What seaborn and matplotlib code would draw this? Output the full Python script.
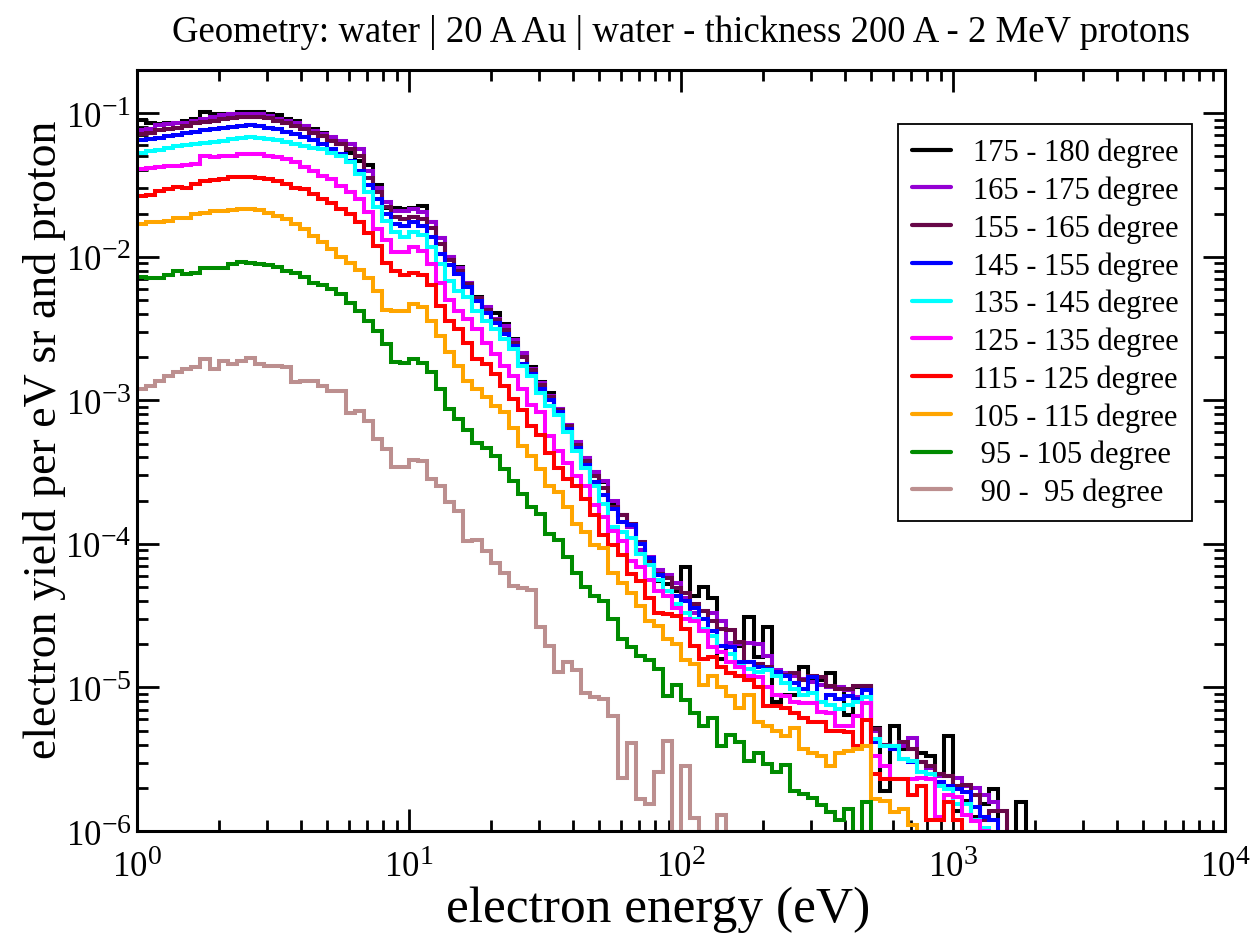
import numpy as np
import pandas as pd
import matplotlib
matplotlib.use("Agg")
import matplotlib.pyplot as plt
import seaborn as sns
from matplotlib.lines import Line2D
from matplotlib.ticker import LogLocator, NullFormatter

try:
    import matplotlib._mathtext as _mt
    _mt.SHRINK_FACTOR = 0.8
except Exception:
    pass

sns.set_theme(style="ticks")
plt.rcParams['font.family'] = ['Liberation Serif', 'DejaVu Serif']
plt.rcParams['mathtext.fontset'] = 'custom'
plt.rcParams['mathtext.rm'] = 'Liberation Serif'
plt.rcParams['mathtext.it'] = 'Liberation Serif:italic'
plt.rcParams['mathtext.bf'] = 'Liberation Serif:bold'
for k in ['text.color', 'axes.labelcolor', 'xtick.color', 'ytick.color', 'axes.edgecolor']:
    plt.rcParams[k] = 'black'

# ---------------- data ----------------
TITLE = "Geometry: water | 20 A Au | water - thickness 200 A - 2 MeV protons"
XLABEL = "electron energy (eV)"
YLABEL = "electron yield per eV sr and proton"
XTICKS = [1, 10, 100, 1000, 10000]
XTICK_LABELS = ["$10^{0}$", "$10^{1}$", "$10^{2}$", "$10^{3}$", "$10^{4}$"]
YTICKS = [1e-6, 1e-5, 1e-4, 1e-3, 1e-2, 1e-1]
YTICK_LABELS = ["$10^{-6}$", "$10^{-5}$", "$10^{-4}$", "$10^{-3}$", "$10^{-2}$", "$10^{-1}$"]

BINS_PER_DECADE = 30   # histogram bins: 30 per decade starting at 1 eV
N_BINS = 99

LABELS = ["175 - 180 degree", "165 - 175 degree", "155 - 165 degree", "145 - 155 degree",
          "135 - 145 degree", "125 - 135 degree", "115 - 125 degree", "105 - 115 degree",
          " 95 - 105 degree", " 90 -  95 degree"]
COLORS = ["#000000", "#9400d3", "#670748", "#0000ff", "#00ffff",
          "#ff00ff", "#ff0000", "#ffa500", "#008b00", "#bc8f8f"]

# log10 of the yield in each bin (None = empty bin)
LOG_175_180 = [-1.046, -1.065, -1.077, -1.07, -1.065, -1.053, -1.042, -0.995, -1.007, -1.007,
               -1.007, -0.995, -0.991, -0.991, -1.007, -1.014, -1.037, -1.053, -1.088, -1.111,
               -1.135, -1.181, -1.216, -1.274, -1.33, -1.36, -1.50, -1.66, -1.66, -1.67,
               -1.66, -1.645, -1.76, -1.87, -2.00, -2.07, -2.18, -2.28, -2.36, -2.39,
               -2.47, -2.57, -2.68, -2.77, -2.87, -2.95, -3.06, -3.17, -3.30, -3.40,
               -3.50, -3.57, -3.72, -3.80, -3.87, -4.05, -4.12, -4.26, -4.28, -4.33,
               -4.16, -4.36, -4.30, -4.38, -4.80, -4.71, -4.71, -4.51, -4.79, -4.58,
               -5.10, -5.05, -5.05, -4.86, -4.95, -4.95, -4.90, -5.00, -5.19, -5.00,
               -4.99, -5.28, -5.72, -5.27, -5.43, -5.43, -5.46, -5.48, -5.60, -5.34,
               -5.86, -5.79, -5.90, -5.81, -5.71, None, None, -5.80, None]
LOG_165_175 = [-1.12, -1.107, -1.084, -1.077, -1.07, -1.065, -1.053, -1.037, -1.023, -1.014,
               -1.007, -1.007, -1.007, -1.007, -1.019, -1.037, -1.053, -1.07, -1.088, -1.123,
               -1.146, -1.169, -1.193, -1.216, -1.25, -1.40, -1.52, -1.62, -1.68, -1.68,
               -1.67, -1.69, -1.76, -1.87, -2.00, -2.08, -2.18, -2.30, -2.35, -2.43,
               -2.48, -2.58, -2.67, -2.78, -2.88, -2.97, -3.06, -3.17, -3.29, -3.40,
               -3.50, -3.56, -3.70, -3.80, -3.88, -4.04, -4.09, -4.18, -4.22, -4.27,
               -4.38, -4.48, -4.47, -4.48, -4.54, -4.69, -4.70, -4.69, -4.70, -4.78,
               -4.88, -4.90, -4.92, -4.94, -4.96, -4.98, -5.00, -5.00, -5.02, -5.07,
               -5.00, -5.30, -5.40, -5.41, -5.41, -5.35, -5.52, -5.56, -5.62, -5.62,
               -5.63, -5.69, -5.70, -5.75, -5.80, -5.86, None, None, None]
LOG_155_165 = [-1.146, -1.135, -1.116, -1.107, -1.10, -1.088, -1.07, -1.06, -1.053, -1.042,
               -1.03, -1.023, -1.023, -1.023, -1.03, -1.053, -1.065, -1.088, -1.111, -1.135,
               -1.157, -1.193, -1.216, -1.25, -1.30, -1.45, -1.55, -1.65, -1.72, -1.74,
               -1.72, -1.74, -1.80, -1.91, -2.02, -2.10, -2.19, -2.29, -2.37, -2.44,
               -2.51, -2.60, -2.70, -2.79, -2.89, -2.98, -3.07, -3.18, -3.31, -3.42,
               -3.53, -3.61, -3.74, -3.80, -3.86, -3.99, -4.12, -4.21, -4.24, -4.31,
               -4.34, -4.42, -4.47, -4.54, -4.59, -4.60, -4.68, -4.82, -4.84, -4.86,
               -4.90, -4.91, -4.90, -4.95, -4.92, -4.93, -4.99, -5.01, -5.01, -4.99,
               -4.99, -5.29, -5.40, -5.43, -5.38, -5.43, -5.52, -5.55, -5.60, -5.62,
               -5.69, -5.68, -5.75, -5.92, -5.86, -5.86, None, None, None]
LOG_145_155 = [-1.19, -1.18, -1.17, -1.16, -1.15, -1.14, -1.13, -1.12, -1.11, -1.10,
               -1.095, -1.09, -1.085, -1.088, -1.10, -1.11, -1.13, -1.145, -1.165, -1.19,
               -1.215, -1.25, -1.285, -1.33, -1.40, -1.50, -1.60, -1.70, -1.77, -1.785,
               -1.757, -1.785, -1.865, -1.98, -2.06, -2.12, -2.21, -2.31, -2.39, -2.46,
               -2.54, -2.62, -2.75, -2.82, -2.92, -3.00, -3.08, -3.20, -3.33, -3.45,
               -3.57, -3.66, -3.76, -3.85, -3.87, -4.00, -4.10, -4.22, -4.33, -4.36,
               -4.40, -4.45, -4.52, -4.61, -4.71, -4.72, -4.82, -4.82, -4.86, -4.87,
               -4.89, -4.92, -4.97, -5.01, -4.93, -5.10, -5.05, -5.08, -5.06, -5.08,
               -5.02, -5.38, -5.41, -5.43, -5.50, -5.52, -5.59, -5.60, -5.66, -5.69,
               -5.71, -5.73, -5.83, -5.90, -5.92, None, None, None, None]
LOG_135_145 = [-1.274, -1.265, -1.255, -1.24, -1.23, -1.222, -1.215, -1.204, -1.20, -1.195,
               -1.181, -1.175, -1.169, -1.174, -1.18, -1.19, -1.20, -1.215, -1.228, -1.245,
               -1.251, -1.274, -1.297, -1.34, -1.42, -1.55, -1.65, -1.75, -1.83, -1.865,
               -1.83, -1.85, -1.93, -2.05, -2.17, -2.24, -2.28, -2.38, -2.45, -2.50,
               -2.57, -2.64, -2.76, -2.83, -2.95, -3.04, -3.10, -3.22, -3.35, -3.47,
               -3.60, -3.72, -3.88, -3.92, -3.96, -4.07, -4.15, -4.25, -4.33, -4.42,
               -4.48, -4.52, -4.59, -4.64, -4.75, -4.77, -4.85, -4.87, -4.89, -4.88,
               -4.92, -4.97, -5.01, -5.05, -5.04, -5.10, -5.12, -5.15, -5.12, -5.10,
               -5.07, -5.36, -5.41, -5.41, -5.50, -5.51, -5.59, -5.60, -5.69, -5.71,
               -5.81, -5.81, -5.92, -5.98, None, None, None, None, None]
LOG_125_135 = [-1.39, -1.385, -1.378, -1.37, -1.366, -1.36, -1.355, -1.297, -1.308, -1.30,
               -1.295, -1.285, -1.285, -1.287, -1.297, -1.308, -1.32, -1.343, -1.378, -1.40,
               -1.436, -1.46, -1.506, -1.55, -1.60, -1.69, -1.81, -1.88, -1.97, -1.97,
               -1.93, -1.96, -2.05, -2.18, -2.30, -2.38, -2.43, -2.50, -2.60, -2.68,
               -2.76, -2.83, -2.92, -3.03, -3.08, -3.25, -3.35, -3.44, -3.53, -3.60,
               -3.73, -3.81, -3.91, -3.98, -4.12, -4.16, -4.25, -4.33, -4.36, -4.45,
               -4.52, -4.54, -4.61, -4.72, -4.75, -4.82, -4.86, -4.92, -4.93, -5.00,
               -5.05, -5.06, -5.10, -5.11, -5.11, -5.17, -5.18, -5.27, -5.27, -5.20,
               -5.11, -5.48, -5.55, -5.64, -5.64, -5.64, -5.63, -5.64, -5.90, -5.75,
               -5.76, -5.89, -5.93, -6.00, None, None, None, None, None]
LOG_115_125 = [-1.576, -1.571, -1.541, -1.529, -1.511, -1.518, -1.49, -1.471, -1.464, -1.455,
               -1.441, -1.441, -1.441, -1.448, -1.455, -1.471, -1.494, -1.518, -1.529, -1.564,
               -1.599, -1.622, -1.669, -1.703, -1.761, -1.831, -1.924, -2.04, -2.098, -2.13,
               -2.11, -2.13, -2.20, -2.34, -2.45, -2.50, -2.60, -2.71, -2.75, -2.82,
               -2.90, -2.99, -3.07, -3.18, -3.24, -3.37, -3.47, -3.55, -3.60, -3.69,
               -3.80, -3.94, -4.01, -4.08, -4.21, -4.26, -4.38, -4.48, -4.49, -4.50,
               -4.59, -4.71, -4.80, -4.79, -4.86, -4.90, -4.92, -4.95, -5.00, -5.13,
               -5.13, -5.14, -5.18, -5.21, -5.24, -5.24, -5.30, -5.30, -5.31, -5.41,
               -5.23, -5.60, -5.64, -5.64, -5.64, -5.75, -5.69, -5.92, -5.92, -5.80,
               -5.92, None, None, None, None, None, None, None, None]
LOG_105_115 = [-1.773, -1.761, -1.761, -1.75, -1.727, -1.727, -1.703, -1.692, -1.68, -1.68,
               -1.673, -1.669, -1.664, -1.673, -1.692, -1.715, -1.738, -1.773, -1.808, -1.854,
               -1.90, -1.947, -2.005, -2.04, -2.09, -2.15, -2.24, -2.37, -2.38, -2.38,
               -2.33, -2.35, -2.446, -2.55, -2.665, -2.76, -2.864, -2.92, -2.98, -3.04,
               -3.08, -3.19, -3.32, -3.39, -3.48, -3.60, -3.64, -3.74, -3.86, -3.92,
               -4.01, -4.03, -4.20, -4.27, -4.34, -4.43, -4.54, -4.57, -4.66, -4.70,
               -4.81, -4.84, -4.98, -4.92, -5.00, -5.06, -5.14, -5.05, -5.24, -5.27,
               -5.30, -5.34, -5.28, -5.43, -5.46, -5.48, -5.55, -5.46, -5.44, -5.43,
               -5.41, -5.78, -5.79, -5.87, -5.85, -5.96, None, None, None, None,
               None, None, None, None, None, None, None, None, None]
LOG_95_105 = [-2.144, -2.15, -2.15, -2.13, -2.10, -2.12, -2.11, -2.075, -2.075, -2.075,
              -2.051, -2.035, -2.044, -2.05, -2.06, -2.07, -2.10, -2.11, -2.14, -2.18,
              -2.20, -2.226, -2.26, -2.32, -2.377, -2.447, -2.515, -2.61, -2.736, -2.74,
              -2.715, -2.74, -2.80, -2.92, -3.06, -3.13, -3.21, -3.30, -3.33, -3.39,
              -3.48, -3.56, -3.65, -3.74, -3.79, -3.93, -3.97, -4.09, -4.20, -4.30,
              -4.36, -4.40, -4.52, -4.66, -4.72, -4.78, -4.81, -4.87, -5.06, -4.98,
              -5.09, -5.18, -5.27, -5.21, -5.41, -5.33, -5.38, -5.51, -5.46, -5.53,
              -5.59, -5.54, -5.72, -5.74, -5.77, -5.82, -5.87, -5.92, -5.85, None,
              -5.80, None, None, None, None, None, None, None, None, None,
              None, None, None, None, None, None, None, None, None]
LOG_90_95 = [-2.922, -2.899, -2.864, -2.829, -2.806, -2.783, -2.771, -2.709, -2.783, -2.725,
             -2.748, -2.725, -2.702, -2.748, -2.759, -2.759, -2.771, -2.875, -2.864, -2.864,
             -2.899, -2.934, -2.934, -3.085, -3.073, -3.143, -3.27, -3.34, -3.467, -3.467,
             -3.417, -3.42, -3.55, -3.60, -3.71, -3.77, -3.98, -3.97, -4.05, -4.13,
             -4.20, -4.29, -4.31, -4.32, -4.58, -4.71, -4.89, -4.82, -4.88, -5.04,
             -5.07, -5.08, -5.20, -5.63, -5.39, -5.78, -5.81, -5.59, -5.37, None,
             -5.55, -5.91, None, None, -5.89, None, None, None, None, None,
             None, None, None, None, None, None, None, None, None, None,
             None, None, None, None, None, None, None, None, None, None,
             None, None, None, None, None, None, None, None, None]

SERIES = [LOG_175_180, LOG_165_175, LOG_155_165, LOG_145_155, LOG_135_145,
          LOG_125_135, LOG_115_125, LOG_105_115, LOG_95_105, LOG_90_95]

# ---------------- long-form table ----------------
edges = 10.0 ** (np.arange(N_BINS + 1) / BINS_PER_DECADE)
EMPTY = 1e-12
rows = []
for label, logs in zip(LABELS, SERIES):
    vals = [EMPTY if v is None else 10.0 ** v for v in logs]
    for i, v in enumerate(vals):
        rows.append((label, edges[i], v))
    rows.append((label, edges[len(vals)], vals[-1]))
df = pd.DataFrame(rows, columns=["angle", "energy", "yield"])

# ---------------- figure ----------------
fig = plt.figure(figsize=(12.55, 9.37), dpi=100)
fig.patch.set_facecolor("white")
ax = fig.add_axes([137 / 1255, 105 / 937, 1088 / 1255, 761 / 937])
ax.set_facecolor("white")
ax.set_xscale("log")
ax.set_yscale("log")

sns.lineplot(data=df, x="energy", y="yield", hue="angle", hue_order=LABELS,
             palette=COLORS, drawstyle="steps-post", linewidth=2.9,
             estimator=None, sort=False, legend=False, ax=ax)
for ln in ax.get_lines():
    ln.set_linewidth(2.9)
    ln.set_solid_joinstyle("miter")

ax.set_xlim(1, 1e4)
ax.set_ylim(1e-6, 0.2)
ax.set_xlabel("")
ax.set_ylabel("")

ax.set_xticks(XTICKS)
ax.set_xticklabels(XTICK_LABELS)
ax.set_yticks(YTICKS)
ax.set_yticklabels(YTICK_LABELS)
ax.xaxis.set_minor_locator(LogLocator(base=10, subs=np.arange(2, 10), numticks=20))
ax.yaxis.set_minor_locator(LogLocator(base=10, subs=np.arange(2, 10), numticks=20))
ax.xaxis.set_minor_formatter(NullFormatter())
ax.yaxis.set_minor_formatter(NullFormatter())
ax.tick_params(which="both", direction="in", top=True, right=True, color="black")
ax.tick_params(which="major", length=15.5, width=2.0, labelsize=25)
ax.tick_params(axis="x", which="major", pad=13)
ax.tick_params(axis="y", which="major", pad=4)
ax.tick_params(which="minor", length=8, width=2.0)
for s in ax.spines.values():
    s.set_linewidth(2.2)
    s.set_color("black")

handles = [Line2D([0], [0], color=c, lw=3) for c in COLORS]
leg = ax.legend(handles, LABELS, loc="upper right", bbox_to_anchor=(0.9697, 0.929),
                borderaxespad=0, frameon=True, fancybox=False, framealpha=1,
                edgecolor="black", fontsize=22, handlelength=1.3,
                handletextpad=0.7, labelspacing=0.27, borderpad=0.45)
leg.get_frame().set_linewidth(1.3)

fig.text(681 / 1255, 1 - 33 / 937, TITLE, ha="center", va="center", fontsize=26.5)
fig.text(658 / 1255, 1 - 922 / 937, XLABEL, ha="center", va="baseline", fontsize=37)
fig.text(45 / 1255, 1 - 440 / 937, YLABEL, ha="center", va="center", rotation=90, fontsize=33)

fig.savefig("out.png", dpi=100, facecolor="white")
